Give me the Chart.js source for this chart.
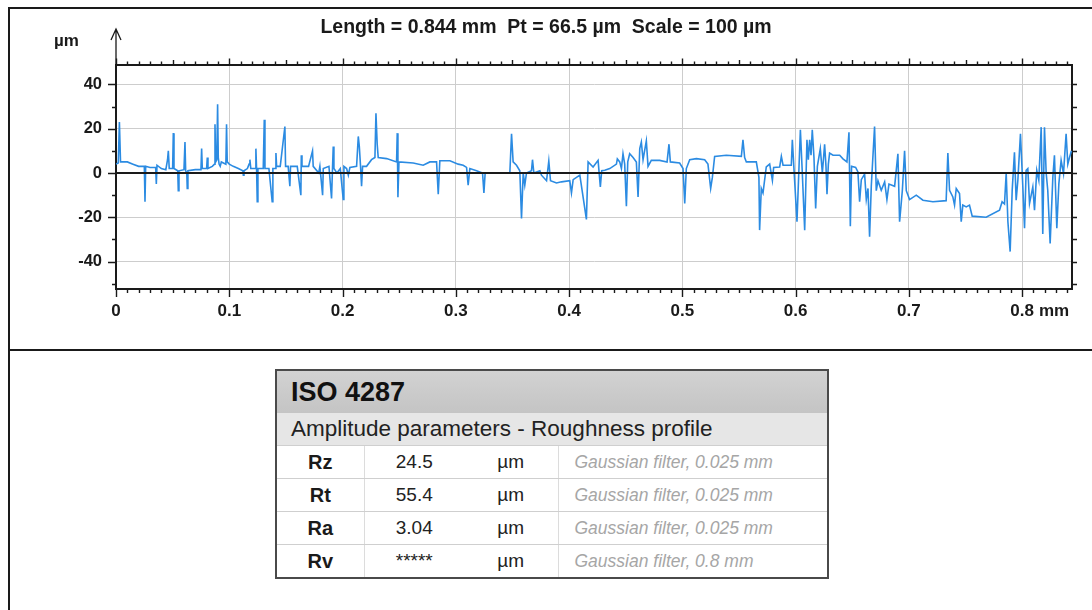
<!DOCTYPE html>
<html>
<head>
<meta charset="utf-8">
<script src="https://cdn.jsdelivr.net/npm/chart.js@4.4.1/dist/chart.umd.min.js"></script>
<style>
  html, body { margin: 0; padding: 0; background: #ffffff; }
  #wrap { position: relative; width: 1092px; height: 610px; overflow: hidden;
          font-family: "Liberation Sans", Arial, Helvetica, sans-serif; color: #1a1a1a; }
  #frame { position: absolute; left: 8px; top: 7px; right: -4px; bottom: -4px;
           border-left: 2px solid #1a1a1a; border-top: 2px solid #1a1a1a; }
  #sep { position: absolute; left: 8px; top: 349px; width: 1084px; height: 2px; background: #1a1a1a; }
  #c { position: absolute; left: 0; top: 0; }
  #iso { position: absolute; left: 275px; top: 369px; width: 554px; border-collapse: collapse;
         border: 2px solid #4a4a4a; table-layout: fixed; }
  #iso td { padding: 0; white-space: nowrap; overflow: hidden; }
  #iso tr.h1 td { height: 42px; background: linear-gradient(#d2d2d2, #c4c4c4); font-weight: bold;
                  font-size: 27px; padding-left: 14px; color: #111; }
  #iso tr.h2 td { height: 32px; background: #e6e6e6; font-size: 22.5px; padding-left: 14px; color: #222;
                  border-bottom: 1px solid #cfcfcf; }
  #iso tr.r td { height: 32px; border-bottom: 1px solid #cfcfcf; font-size: 19px; }
  #iso tr.r:last-child td { border-bottom: none; }
  #iso tr.r td.p { font-weight: bold; text-align: center; border-right: 1px solid #dcdcdc; font-size: 20px; }
  #iso tr.r td.v { text-align: center; color: #222; }
  #iso tr.r td.u { text-align: center; color: #222; border-right: 1px solid #dcdcdc; }
  #iso tr.r td.f { font-style: italic; color: #a6a6a6; font-size: 17.5px; padding-left: 16px; }
</style>
</head>
<body>
<div id="wrap">
  <div id="frame"></div>
  <div id="sep"></div>
  <canvas id="c" width="1092" height="349"></canvas>
  <table id="iso">
    <colgroup><col style="width:88px"><col style="width:100px"><col style="width:94px"><col></colgroup>
    <tbody id="isoBody"></tbody>
  </table>
</div>
<script>
// ---------------- data ----------------
const chartTitle = 'Length = 0.844 mm  Pt = 66.5 µm  Scale = 100 µm';
const yUnit = 'µm';
const xUnit = 'mm';
const xRange = [0, 0.844];
const yRange = [-52.4, 49.0];
const xGridValues = [0, 0.1, 0.2, 0.3, 0.4, 0.5, 0.6, 0.7, 0.8];
const xTickLabels = ['0', '0.1', '0.2', '0.3', '0.4', '0.5', '0.6', '0.7', '0.8'];
const yTickValues = [-50, -40, -30, -20, -10, 0, 10, 20, 30, 40];
const yLabelledValues = [-40, -20, 0, 20, 40];
const xRulerStep = 0.01;

// roughness profile: [distance (mm), height (µm)]
const profilePoints = [
  [0,4],[0.002,4.5],[0.003,23],[0.004,5],[0.005,5],[0.010,5],[0.015,4],[0.020,3],[0.025,3],[0.0256,-13],
  [0.0262,3],[0.030,2.5],[0.035,2.5],[0.0356,-5],[0.0362,3.5],[0.040,2],[0.044,1.5],[0.0455,6],[0.0462,10],[0.047,2],
  [0.050,2],[0.0506,18],[0.0512,2],[0.0545,1],[0.055,-8],[0.0556,1],[0.060,1.5],[0.0609,14],[0.0615,1],[0.0625,0],
  [0.0629,-7],[0.0635,1],[0.070,1.5],[0.075,1.5],[0.0756,11],[0.0762,2],[0.080,2],[0.0806,7],[0.0812,2],[0.085,3],
  [0.087,4],[0.0874,22],[0.088,5],[0.089,6],[0.0897,31],[0.0903,7],[0.091,4],[0.092,3],[0.093,5],[0.097,4],
  [0.0976,22],[0.0982,5],[0.100,4],[0.1035,3],[0.108,2],[0.112,1],[0.1124,-1],[0.113,1],[0.116,2],[0.1175,4],
  [0.1182,6],[0.119,2],[0.123,2],[0.1235,11],[0.1241,2],[0.1247,-13],[0.1253,2],[0.130,2],[0.1309,24],[0.1315,2],
  [0.135,2],[0.1379,-13],[0.1385,2],[0.1405,2],[0.1412,9],[0.1418,3],[0.145,3],[0.1491,21],[0.1497,3],[0.152,3],
  [0.1535,-6],[0.1541,3],[0.160,3],[0.1632,-10],[0.1636,8],[0.1642,3],[0.170,3],[0.1735,10],[0.1741,3],[0.179,0],
  [0.180,3],[0.1824,-10],[0.183,2],[0.188,3],[0.1903,-11.5],[0.1912,3],[0.1918,12],[0.1924,2],[0.195,0],[0.198,2],
  [0.2006,-12],[0.2012,3],[0.2036,2],[0.2051,-1],[0.2065,2.5],[0.2124,3],[0.2139,16.5],[0.2148,12],[0.2159,3],[0.2168,-6],
  [0.2177,3],[0.2212,3],[0.2256,6],[0.2286,7],[0.2295,27],[0.2306,13],[0.2315,7],[0.2389,6.5],[0.2477,5],[0.2483,18],
  [0.2489,-11],[0.2498,5],[0.2624,4.5],[0.2712,3.5],[0.2771,5],[0.2830,5],[0.2845,-9.6],[0.2859,5.5],[0.2948,5.5],[0.3021,4],
  [0.3065,3.5],[0.3095,2.5],[0.3109,-5.5],[0.3124,2],[0.3183,1],[0.3236,0],[0.3248,-9],[0.3259,0],[0.3301,0],[0.3389,0],
  [0.3477,0],[0.3492,17.7],[0.3506,5],[0.3536,3.5],[0.3565,1],[0.3580,-20.5],[0.3595,0],[0.3609,-5.5],[0.3624,0],[0.3668,1],
  [0.3677,6],[0.3689,0],[0.3742,1],[0.3756,-1],[0.3801,-3.5],[0.3821,5.4],[0.3836,-3.5],[0.3889,-4.5],[0.3933,-4],[0.4006,-3.5],
  [0.4021,-9],[0.4036,-3],[0.4095,-1],[0.4153,-21],[0.4168,5],[0.4212,2.7],[0.4256,5.7],[0.4276,-6.3],[0.4288,1],[0.4315,1.2],
  [0.4359,2],[0.4418,4],[0.4426,6.4],[0.4447,5],[0.4462,2],[0.4476,8.7],[0.4491,4],[0.4506,-15],[0.4518,5],[0.4535,8.7],
  [0.4565,7],[0.4594,5],[0.4609,-10.8],[0.4624,11],[0.4638,14],[0.4653,6],[0.4682,14.5],[0.4697,3],[0.4726,5.7],[0.4800,5.7],
  [0.4865,5],[0.4882,13],[0.4894,5],[0.4976,4.5],[0.5006,2],[0.5021,-13.8],[0.5035,2],[0.5065,6],[0.5124,6.5],[0.5197,6],
  [0.5226,4],[0.5250,-7],[0.5265,-2],[0.5285,7.5],[0.5388,8],[0.5521,7.5],[0.5535,15],[0.5550,7],[0.5565,5],[0.5653,5],
  [0.5676,-2],[0.5682,-25.8],[0.5697,-7],[0.5712,-9],[0.5741,2.7],[0.5771,4],[0.5795,-3.3],[0.5806,2.5],[0.5859,2.7],[0.5874,7.5],
  [0.5889,3.5],[0.5962,3.5],[0.5971,15],[0.5983,4],[0.6012,-22],[0.6042,19.5],[0.6059,0],[0.6080,-25.8],[0.6100,15],[0.6112,6],
  [0.6124,15],[0.6136,8],[0.6147,19.5],[0.6162,7],[0.6177,-16],[0.6192,3],[0.6218,11],[0.6236,0],[0.6256,13],[0.6268,3],
  [0.6277,-9.6],[0.6289,4],[0.6300,9],[0.6330,8],[0.6389,8],[0.6418,6.4],[0.6453,5],[0.6471,18.4],[0.6483,-24],[0.6494,3],
  [0.6530,2.5],[0.6550,0.5],[0.6565,-13],[0.6580,-3],[0.6609,-0.5],[0.6624,-12],[0.6639,-7],[0.6653,-28.8],[0.6668,-6],[0.6697,21],
  [0.6712,-8],[0.6727,-3.5],[0.6756,-7.8],[0.6786,-4],[0.6806,-12],[0.6824,-5],[0.6874,-6],[0.6903,8.7],[0.6918,-22],[0.6942,-8],
  [0.6962,10],[0.6977,-8],[0.7006,-12],[0.7065,-10],[0.7124,-12.3],[0.7212,-13],[0.7329,-12.5],[0.7344,9],[0.7359,-7.8],[0.7388,-10.8],
  [0.7403,-14.5],[0.7418,-7],[0.7447,-9.3],[0.7462,-22],[0.7476,-14.5],[0.7506,-15.3],[0.7535,-14.5],[0.7559,-19.5],[0.7682,-20],[0.7800,-16.8],
  [0.7823,-13],[0.7844,-14],[0.7859,0],[0.7874,-22],[0.7894,-35.5],[0.7912,-7.8],[0.7932,9.4],[0.7947,-12.3],[0.7962,-3.3],[0.7985,17.7],
  [0.8006,-6.3],[0.8021,-25],[0.8035,1.2],[0.8050,2],[0.8065,-13.8],[0.8094,-6.3],[0.8109,-16.8],[0.8129,1.2],[0.8147,-3.3],[0.8168,20.7],
  [0.8182,-27.6],[0.8197,20.7],[0.8212,0],[0.8226,-7.8],[0.8247,-31.8],[0.8271,-1.8],[0.8285,8],[0.8306,-25],[0.8324,-4.8],[0.8344,5.7],
  [0.8365,-0.3],[0.8388,17.7],[0.8403,4],[0.8418,7],[0.8435,10]
];

// ISO 4287 table
const tableTitle = 'ISO 4287';
const tableSubtitle = 'Amplitude parameters - Roughness profile';
const paramNames = ['Rz', 'Rt', 'Ra', 'Rv'];
const paramValues = ['24.5', '55.4', '3.04', '*****'];
const paramUnits = ['µm', 'µm', 'µm', 'µm'];
const paramFilters = ['Gaussian filter, 0.025 mm', 'Gaussian filter, 0.025 mm', 'Gaussian filter, 0.025 mm', 'Gaussian filter, 0.8 mm'];

// ---------------- table ----------------
(function buildTable() {
  const body = document.getElementById('isoBody');
  let html = '<tr class="h1"><td colspan="4">' + tableTitle + '</td></tr>';
  html += '<tr class="h2"><td colspan="4">' + tableSubtitle + '</td></tr>';
  paramNames.forEach((n, i) => {
    html += '<tr class="r"><td class="p">' + n + '</td><td class="v">' + paramValues[i] +
            '</td><td class="u">' + paramUnits[i] + '</td><td class="f">' + paramFilters[i] + '</td></tr>';
  });
  body.innerHTML = html;
})();

// ---------------- chart ----------------
const FONT = '"Liberation Sans", Arial, Helvetica, sans-serif';
const INK = '#1a1a1a';

const decorPlugin = {
  id: 'decor',
  afterDatasetsDraw(chart) {
    const { ctx, chartArea: a, scales } = chart;
    const x = scales.x, y = scales.y;
    ctx.save();
    // zero line on top of the profile
    const y0 = y.getPixelForValue(0);
    ctx.strokeStyle = INK; ctx.lineWidth = 2;
    ctx.beginPath(); ctx.moveTo(a.left, y0); ctx.lineTo(a.right, y0); ctx.stroke();

    ctx.lineWidth = 1.4;
    ctx.beginPath();
    // ruler ticks along top and bottom
    const n = Math.round((xRange[1] - xRange[0]) / xRulerStep);
    for (let i = 0; i <= n; i++) {
      const px = Math.round(x.getPixelForValue(xRange[0] + i * xRulerStep)) + 0.5;
      const topLen = (i % 10 === 0) ? 6 : (i % 5 === 0 ? 4.5 : 3);
      const botLen = (i % 10 === 0) ? 8 : 4;
      ctx.moveTo(px, a.top); ctx.lineTo(px, a.top - topLen);
      ctx.moveTo(px, a.bottom); ctx.lineTo(px, a.bottom + botLen);
    }
    // left and right ticks
    yTickValues.forEach(v => {
      const py = Math.round(y.getPixelForValue(v)) + 0.5;
      const len = yLabelledValues.includes(v) ? 8 : 4;
      ctx.moveTo(a.left, py); ctx.lineTo(a.left - len, py);
      ctx.moveTo(a.right, py); ctx.lineTo(a.right + 5, py);
    });
    ctx.stroke();

    // y axis arrow
    ctx.lineWidth = 1.3;
    ctx.beginPath();
    ctx.moveTo(a.left, a.top); ctx.lineTo(a.left, 30);
    ctx.moveTo(a.left - 5, 40); ctx.lineTo(a.left, 29); ctx.lineTo(a.left + 5, 40);
    ctx.stroke();

    // unit labels
    ctx.fillStyle = INK;
    ctx.font = 'bold 17px ' + FONT;
    ctx.textAlign = 'left'; ctx.textBaseline = 'middle';
    ctx.fillText(yUnit, 54, 41);
    ctx.font = 'bold 17px ' + FONT;
    const lastVal = xGridValues[xGridValues.length - 1];
    const lastLbl = xTickLabels[xTickLabels.length - 1];
    const w = ctx.measureText(lastLbl).width;
    ctx.fillText(xUnit, x.getPixelForValue(lastVal) + w / 2 + 5, 311);
    ctx.restore();
  }
};

new Chart(document.getElementById('c').getContext('2d'), {
  type: 'line',
  data: {
    datasets: [{
      data: profilePoints.map(p => ({ x: p[0], y: p[1] })),
      borderColor: '#2b8be2',
      borderWidth: 1.6,
      pointRadius: 0,
      tension: 0,
      fill: false
    }]
  },
  options: {
    responsive: false,
    animation: false,
    events: [],
    layout: { padding: 0 },
    plugins: {
      legend: { display: false },
      tooltip: { enabled: false },
      title: {
        display: true,
        text: chartTitle,
        color: INK,
        font: { family: FONT, size: 19.5, weight: 'bold', lineHeight: 1 },
        padding: { top: 18, bottom: 0 }
      }
    },
    scales: {
      x: {
        type: 'linear', position: 'bottom', min: xRange[0], max: xRange[1],
        afterBuildTicks: s => { s.ticks = xGridValues.map(v => ({ value: v })); },
        afterFit: s => { s.height = 60; },
        ticks: {
          callback: (v, i) => xTickLabels[i],
          autoSkip: false, maxRotation: 0, padding: 12, color: INK,
          font: { family: FONT, size: 17, weight: 'bold' }
        },
        grid: { color: '#cdcdcd', lineWidth: 1, drawTicks: false },
        border: { display: true, color: INK, width: 2 }
      },
      xTop: {
        type: 'linear', position: 'top', min: xRange[0], max: xRange[1],
        afterFit: s => { s.height = 27; },
        ticks: { display: false },
        grid: { display: false, drawTicks: false },
        border: { display: true, color: INK, width: 2 }
      },
      y: {
        type: 'linear', position: 'left', min: yRange[0], max: yRange[1],
        afterBuildTicks: s => { s.ticks = yTickValues.map(v => ({ value: v })); },
        afterFit: s => { s.width = 116; },
        ticks: {
          callback: v => yLabelledValues.includes(v) ? String(v) : '',
          autoSkip: false, padding: 14, color: INK,
          font: { family: FONT, size: 16.5, weight: 'bold' }
        },
        grid: {
          drawTicks: false,
          color: c => (c.tick && yLabelledValues.includes(c.tick.value) && c.tick.value !== 0) ? '#cdcdcd' : 'rgba(0,0,0,0)',
          lineWidth: 1
        },
        border: { display: true, color: INK, width: 2 }
      },
      yRight: {
        type: 'linear', position: 'right', min: yRange[0], max: yRange[1],
        afterFit: s => { s.width = 20; },
        ticks: { display: false },
        grid: { display: false, drawTicks: false },
        border: { display: true, color: INK, width: 2 }
      }
    }
  },
  plugins: [decorPlugin]
});
</script>
</body>
</html>
